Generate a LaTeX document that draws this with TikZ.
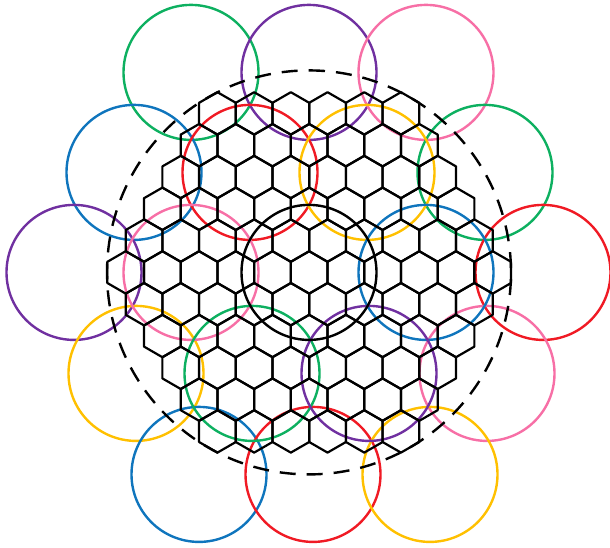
\documentclass[tikz,border=0pt]{standalone}
\usepackage{xcolor}
\definecolor{Ring_Red}{HTML}{F01A24}
\definecolor{Ring_Yellow}{HTML}{FFC000}
\definecolor{Ring_Green}{HTML}{0DB060}
\definecolor{Ring_Blue}{HTML}{0F75BD}
\definecolor{Ring_Purple}{HTML}{7030A0}
\definecolor{Ring_Pink}{HTML}{F76FA6}
\tikzset{
  hexedge/.style={line width=2.2pt, line join=round, black},
  ring/.style={line width=2.4pt},
  bigring/.style={line width=2.4pt, dash pattern=on 16pt off 11pt}
}

\begin{document}
\begin{tikzpicture}[x=1pt, y=-1pt]
\useasboundingbox (0,0) rectangle (610,547);
% Rings
\foreach \cx/\cy/\col in {191/72.4/Ring_Green, 309/72.4/Ring_Purple, 426/72.4/Ring_Pink,
  134/172.4/Ring_Blue, 485/172.4/Ring_Green, 74/272.4/Ring_Purple, 543/272.4/Ring_Red,
  136/373.4/Ring_Yellow, 487/373.4/Ring_Pink, 199/474.4/Ring_Blue, 313/474.4/Ring_Red, 430/474.4/Ring_Yellow,
  250/172.4/Ring_Red, 367/172.4/Ring_Yellow, 191/272.4/Ring_Pink, 426/272.4/Ring_Blue,
  252/373.4/Ring_Green, 369/373.4/Ring_Purple} {
  \draw[ring, \col] (\cx,\cy) circle[radius=67.5];
}
% Hexagons
\foreach \r in {-5,...,5} {
  \pgfmathsetmacro{\num}{int(10-abs(\r))}
  \foreach \k in {0,...,\num} {
    \pgfmathsetmacro{\hx}{309.2+36.7*(\k-\num/2)}
    \pgfmathsetmacro{\hy}{272.4+31.8*\r}
    \draw[hexedge] (\hx,\hy) ++(90:21.2) -- ++(210:21.2) -- ++(270:21.2) -- ++(330:21.2)
      -- ++(30:21.2) -- ++(90:21.2) -- cycle;
  }
}
% Centre ring
\draw[ring, black] (309,272.4) circle[radius=67.5];
% Outer dashed ring
\draw[bigring] (309,272.4) ++(270:202) arc[start angle=270, delta angle=360, radius=202];
\end{tikzpicture}
\end{document}
